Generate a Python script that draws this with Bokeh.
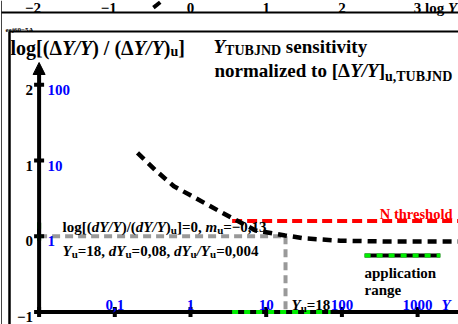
import math
from bokeh.plotting import figure
from bokeh.models import Range1d, Arrow, NormalHead
from bokeh.core.properties import value
from bokeh.embed import file_html
from bokeh.resources import INLINE

# ---------------- data ----------------
x_ticks = [-2, -1, 0, 1, 2, 3]
x_tick_labels = ["\u22122", "\u22121", "0", "1", "2", "3"]
y_ticks = [-1, 0, 1, 2]
y_tick_labels = ["\u22121", "0", "1", "2"]
y_lin_ticks = [0, 1, 2]
y_lin_labels = ["1", "10", "100"]
x_lin_ticks = [-1, 0, 1, 2, 3]
x_lin_labels = ["0,1", "1", "10", "100", "1000"]

curve_x = [-0.70, -0.45, -0.22, 0.00, 0.20, 0.40, 0.55, 0.86, 1.25, 1.52, 1.98, 2.6, 3.6]
curve_y = [1.10, 0.86, 0.66, 0.54, 0.43, 0.32, 0.24, 0.075, 0.01, -0.03, -0.06, -0.07, -0.07]
threshold_x = [0.55, 3.6]
threshold_y = [0.20, 0.20]
Y_u = 18
app_x = [0.55, 1.85]
app_y = [-0.06, 0.18]
legend_x = [2.30, 3.30]
legend_y = [-0.255, -0.255]
prev_x = [-0.49, -0.40]
prev_y = [3.02, 3.09]

# ---------------- geometry ----------------
W, H = 458, 324
S = 75.7
OX, OY = 190.0, 235.7
def dx(px): return (px - OX) / S
def dy(py): return (OY - py) / S

p = figure(width=W, height=H, x_range=Range1d(dx(0), dx(W)), y_range=Range1d(dy(H), dy(0)),
           output_backend="svg", toolbar_location=None, x_axis_type=None, y_axis_type=None,
           title_location=None,
           min_border=0, min_border_left=0, min_border_right=0, min_border_top=0, min_border_bottom=0)
p.grid.visible = False
p.outline_line_color = None
p.background_fill_color = "white"

FONT = value("Liberation Serif")

# frame lines
p.line([dx(1), dx(1)], [dy(0), dy(H)], line_color="#444444", line_width=1)
p.line([dx(1), dx(W)], [dy(12), dy(12)], line_color="black", line_width=2)
p.line([dx(9), dx(9)], [dy(31), dy(H)], line_color="black", line_width=2.5)
p.line([dx(9), dx(W)], [dy(31), dy(31)], line_color="black", line_width=2)

# fragment of previous chart curve
p.line(prev_x, prev_y, line_color="black", line_width=4)

# gray reference lines
lu = math.log10(Y_u)
p.line([-2, lu], [0, 0], line_color="#999999", line_width=4, line_dash="8 5")
p.line([lu, lu], [0, -1], line_color="#999999", line_width=4, line_dash="8 5")

# threshold and curve
p.line(threshold_x, threshold_y, line_color="red", line_width=4, line_dash="10 5")
p.line(curve_x, curve_y, line_color="black", line_width=4.5, line_dash="9 6")

# axes
p.line([-2, 3.6], [-1, -1], line_color="black", line_width=4)
p.add_layout(Arrow(end=NormalHead(size=12, fill_color="black", line_color="black"),
                   x_start=-2, y_start=-1, x_end=-2, y_end=dy(62), line_width=4, line_color="black"))
tk = 5.0 / S
p.segment(x0=[-2 - tk] * len(y_ticks), x1=[-2 + tk] * len(y_ticks), y0=y_ticks, y1=y_ticks,
          line_color="black", line_width=4)
p.segment(x0=x_ticks, x1=x_ticks, y0=[-1 - tk] * len(x_ticks), y1=[-1 + tk] * len(x_ticks),
          line_color="black", line_width=4)

# application range (green/black)
p.line(app_x, [-1, -1], line_color="black", line_width=4)
p.line(app_x, [-1, -1], line_color="#00ee00", line_width=4, line_dash="6 6")
p.line([-2, -2], app_y, line_color="black", line_width=4)
p.line([-2, -2], app_y, line_color="#00ee00", line_width=4, line_dash="6 6")
p.line(legend_x, legend_y, line_color="black", line_width=4)
p.line(legend_x, legend_y, line_color="#00ee00", line_width=4, line_dash="6 6")

# ---------------- text helpers ----------------
WB = {' ': 250, '(': 333, ')': 333, ',': 250, '.': 250, '/': 278, '=': 570, '[': 333, ']': 333,
      '\u2212': 570, '\u0394': 640, 'A': 722, 'B': 667, 'D': 722, 'J': 500, 'N': 722, 'T': 667,
      'U': 722, 'Y': 722, 'a': 500, 'c': 444, 'd': 556, 'e': 444, 'g': 500, 'h': 556, 'i': 278,
      'l': 278, 'm': 833, 'n': 556, 'o': 500, 'p': 556, 'r': 444, 's': 389, 't': 333, 'u': 556,
      'v': 500, 'y': 500, 'z': 444}
WBI = dict(WB)
WBI.update({'Y': 611, 'd': 500, 'm': 778})

def tw(s, italic, size):
    tbl = WBI if italic else WB
    return sum(tbl.get(c, 500) for c in s) * size / 1000.0

groups = {}
def put(px, py, s, size, italic=False, color="black", align="left"):
    key = (size, italic, color, align)
    g = groups.setdefault(key, ([], [], []))
    g[0].append(dx(px)); g[1].append(dy(py)); g[2].append(s)

def rich(px, py, pieces, size, color="black", sub_scale=0.72, sub_shift=None):
    if sub_shift is None:
        sub_shift = size * 0.22
    x = px
    for piece in pieces:
        s, it = piece[0], piece[1]
        sub = len(piece) > 2 and piece[2]
        fs = round(size * sub_scale) if sub else size
        lead = len(s) - len(s.lstrip(" "))
        x += tw(" " * lead, it, fs)
        core = s.strip(" ")
        put(x, py + (sub_shift if sub else 0), core, fs, it, color)
        x += tw(s.lstrip(" "), it, fs)

# stamp
put(5, 29, "eej60\u22125A", 7)

# top strip labels (bottom of previous chart)
for t, lab in zip(x_ticks, x_tick_labels):
    tpx = OX + t * S
    if lab.startswith("\u2212"):
        put(tpx + 2, 7, lab, 15, align="right")
    elif t == 3:
        rich(tpx - 3.75, 7, [("3 log ", False), ("Y", True)], 15)
    else:
        put(tpx, 7, lab, 15, align="center")

# titles
rich(10, 47, [("log[(\u0394", False), ("Y/Y", True), (") / (\u0394", False), ("Y/Y", True),
              (")", False), ("u", False, True), ("]", False)], 20, sub_shift=4)
rich(213, 46, [("Y", True), ("TUBJND", False, True), (" sensitivity", False)], 19, sub_shift=4)
rich(214, 70, [("normalized to [\u0394", False), ("Y/Y", True), ("]", False),
               ("u,TUBJND", False, True)], 19, sub_shift=6)

# y axis labels
for t, lab in zip(y_ticks, y_tick_labels):
    put(32.5, OY - t * S + 5, lab, 15, align="right")
for t, lab in zip(y_lin_ticks, y_lin_labels):
    put(47, OY - t * S + 5, lab, 15, color="blue")

# x axis labels (bottom)
for t, lab in zip(x_lin_ticks, x_lin_labels):
    put(OX + t * S, 304, lab, 15, color="blue", align="center")
put(441, 304, "Y", 15, italic=True, color="blue")
for t, lab in zip(x_ticks, x_tick_labels):
    tpx = OX + t * S
    if lab.startswith("\u2212"):
        put(tpx + 2, 329, lab, 15, align="right")
    elif t == 3:
        rich(tpx - 3.75, 329, [("3 log ", False), ("Y", True)], 15)
    else:
        put(tpx, 329, lab, 15, align="center")

rich(291, 304, [("Y", True), ("u", False, True), ("=18", False)], 15)

# annotation lines
rich(62, 226, [("log[(", False), ("dY/Y", True), (")/(", False), ("dY/Y", True), (")", False),
               ("u", False, True), ("]=0, ", False), ("m", True), ("u", False, True),
               ("=\u22120,13", False)], 15)
rich(62, 250, [("Y", True), ("u", False, True), ("=18, ", False), ("dY", True), ("u", False, True),
               ("=0,08, ", False), ("dY", True), ("u", False, True), ("/", True), ("Y", True),
               ("u", False, True), ("=0,004", False)], 15)

put(452, 213, "N threshold", 14.5, color="red", align="right")
put(364, 272, "application", 15)
put(364, 289, "range", 15)

for (size, italic, color, align), (xs, ys, ts) in groups.items():
    p.text(x=xs, y=ys, text=ts, text_font=FONT, text_font_size=f"{size}px",
           text_font_style="bold italic" if italic else "bold", text_color=color,
           text_align=align, text_baseline="alphabetic")

open("out.html", "w").write(file_html(p, INLINE))
